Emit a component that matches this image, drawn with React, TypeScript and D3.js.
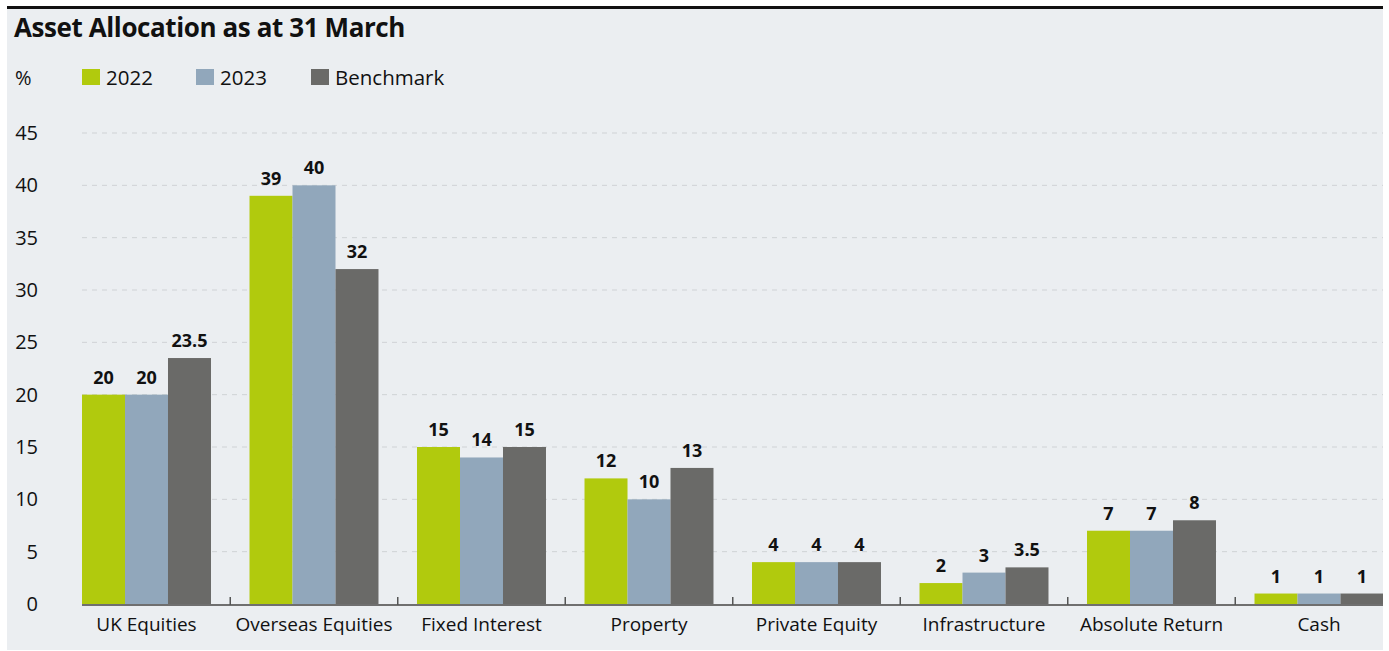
import React from 'react';
import * as d3 from 'd3';

const categories = ['UK Equities', 'Overseas Equities', 'Fixed Interest', 'Property', 'Private Equity', 'Infrastructure', 'Absolute Return', 'Cash'];
const seriesNames = ['2022', '2023', 'Benchmark'];
const values2022 = [20, 39, 15, 12, 4, 2, 7, 1];
const values2023 = [20, 40, 14, 10, 4, 3, 7, 1];
const valuesBenchmark = [23.5, 32, 15, 13, 4, 3.5, 8, 1];
const yTicks = [0, 5, 10, 15, 20, 25, 30, 35, 40, 45];
const colors = ['#b1ca0d', '#91a7bb', '#6a6a68'];

const W = 1389;
const H = 651;
const font = "'Open Sans', 'Noto Sans', sans-serif";

const App = () => {
    const series = [values2022, values2023, valuesBenchmark];

    // band scale runs past the panel edge, the last group is clipped like in the original
    const x = d3.scaleBand<string>()
        .domain(categories)
        .range([62.75, 1402.75])
        .paddingInner(0.23)
        .paddingOuter(0.115);
    const xInner = d3.scaleBand<string>()
        .domain(seriesNames)
        .range([0, x.bandwidth()]);
    const y = d3.scaleLinear()
        .domain([0, 45])
        .range([604, 133]);

    const fmt = d3.format('~g');
    const step = x.step();
    const bandStart = (c: string) => (x(c) as number) - (step - x.bandwidth()) / 2;

    return (
        <svg width={W} height={H} viewBox={`0 0 ${W} ${H}`} style={{ position: 'absolute', left: 0, top: 0, display: 'block' }}>
            <defs>
                <clipPath id="panel">
                    <rect x={7} y={9} width={1376} height={641} />
                </clipPath>
            </defs>
            <rect x={0} y={0} width={W} height={H} fill="#ffffff" />
            <rect x={7} y={9} width={1376} height={641} fill="#ebeef1" />
            <rect x={7} y={6} width={1376} height={3} fill="#111111" />

            <text x={14} y={37} fontFamily={font} fontWeight={700} fontSize={26} fill="#111" letterSpacing={-0.4}>
                Asset Allocation as at 31 March
            </text>

            {/* legend */}
            <text x={15} y={85} fontFamily={font} fontSize={20} fill="#111">%</text>
            {seriesNames.map((s, i) => {
                const lx = [82, 196, 311][i];
                return (
                    <g key={s}>
                        <rect x={lx} y={69} width={18} height={16} fill={colors[i]} />
                        <text x={lx + 24} y={85} fontFamily={font} fontSize={20.5} fill="#111">{s}</text>
                    </g>
                );
            })}

            <g clipPath="url(#panel)">
                {/* grid */}
                {yTicks.filter(t => t > 0).map(t => (
                    <line key={t} x1={82} x2={1383} y1={y(t)} y2={y(t)} stroke="#cfd2d5" strokeWidth={1} strokeDasharray="5,5" />
                ))}

                {/* bars */}
                {categories.map((c, ci) => (
                    <g key={c} transform={`translate(${x(c)},0)`}>
                        {series.map((vals, si) => (
                            <rect key={si}
                                x={xInner(seriesNames[si])}
                                y={y(vals[ci])}
                                width={xInner.bandwidth()}
                                height={y(0) - y(vals[ci])}
                                fill={colors[si]} />
                        ))}
                        {series.map((vals, si) => (
                            <text key={'l' + si}
                                x={(xInner(seriesNames[si]) as number) + xInner.bandwidth() / 2}
                                y={y(vals[ci]) - 11}
                                textAnchor="middle"
                                fontFamily={font} fontWeight={700} fontSize={18} fill="#111">
                                {fmt(vals[ci])}
                            </text>
                        ))}
                    </g>
                ))}

                {/* x axis */}
                <line x1={82} x2={1383} y1={605} y2={605} stroke="#6f6f6f" strokeWidth={2} />
                {categories.slice(1).map(c => (
                    <line key={c} x1={bandStart(c)} x2={bandStart(c)} y1={597} y2={605} stroke="#555" strokeWidth={1.5} />
                ))}
                {categories.map(c => (
                    <text key={c} x={(x(c) as number) + x.bandwidth() / 2} y={631} textAnchor="middle"
                        fontFamily={font} fontSize={19} fill="#111">
                        {c}
                    </text>
                ))}
            </g>

            {/* y axis labels */}
            {yTicks.map(t => (
                <text key={t} x={38} y={y(t) + 7} textAnchor="end" fontFamily={font} fontSize={20} fill="#111">
                    {t}
                </text>
            ))}
        </svg>
    );
};

export default App;
